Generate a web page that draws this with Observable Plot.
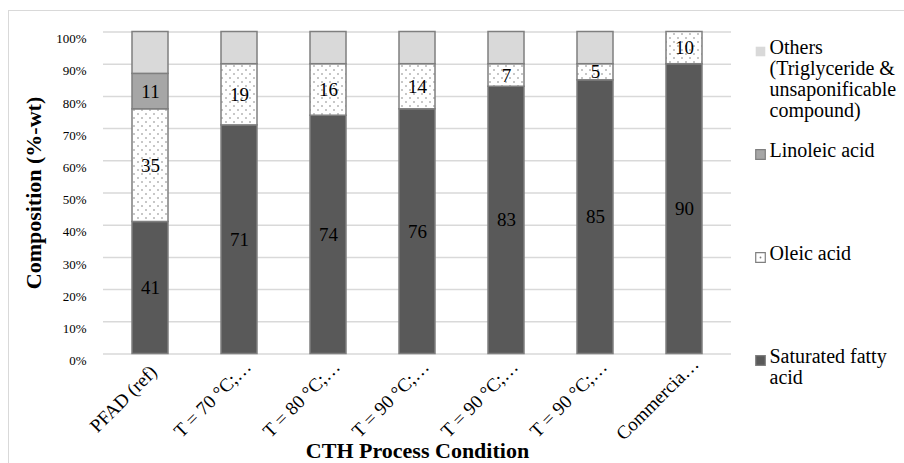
<!DOCTYPE html>
<html><head><meta charset="utf-8">
<script src="https://cdn.jsdelivr.net/npm/d3@7"></script>
<script src="https://cdn.jsdelivr.net/npm/@observablehq/plot@0.6"></script>
<style>
body{margin:0;background:#fff;overflow:hidden}
#wrap{position:relative;width:904px;height:463px;overflow:hidden}
#frame{position:absolute;left:8px;top:10px;width:1000px;height:1000px;border-left:1.5px solid #d9d9d9;border-top:1.5px solid #d9d9d9}
#chart{position:absolute;left:0;top:0}
g[aria-label="y-axis label"], g[aria-label="x-axis label"]{font-weight:bold;font-size:22px}
</style></head>
<body>
<div id="wrap"><div id="frame"></div><div id="chart"></div></div>
<script>
const conditions = ["PFAD (ref)","T = 70 °C;…","T = 80 °C;…","T = 90 °C;…","T = 90 °C;…","T = 90 °C;…","Commercia…"];
const series = ["Saturated fatty acid","Oleic acid","Linoleic acid","Others (Triglyceride & unsaponificable compound)"];
const legendLabels = ["Saturated fatty\nacid","Oleic acid","Linoleic acid","Others\n(Triglyceride &\nunsaponificable\ncompound)"];
const saturated = [41,71,74,76,83,85,90];
const oleic = [35,19,16,14,7,5,10];
const linoleic = [11,0,0,0,0,0,0];
const others = [13,10,10,10,10,10,0];
const yTicks = [0,10,20,30,40,50,60,70,80,90,100];
const fills = ["#595959","url(#dots)","#a6a6a6","#d9d9d9"];
const legendFills = ["#595959","#ffffff","#a6a6a6","#d9d9d9"];
const legendStrokes = ["#7f7f7f","#7f7f7f","#7f7f7f","none"];
const serifFont = "Liberation Serif";

const data = [];
conditions.forEach((c,i)=>{
  [saturated,oleic,linoleic,others].forEach((arr,s)=>data.push({i, s, series:series[s], value:arr[i]}));
});

const chart = Plot.plot({
  width:904, height:463,
  marginLeft:103, marginRight:173, marginTop:31.5, marginBottom:109.5,
  style:{fontFamily:serifFont, fontSize:"13px", color:"#000", background:"transparent", overflow:"visible"},
  x:{type:"band", domain:d3.range(conditions.length), paddingInner:0.6, paddingOuter:0.3, label:null},
  y:{domain:[0,100], label:null},
  color:{type:"identity"},
  marks:[
    Plot.ruleY(yTicks,{stroke:"#d9d9d9", strokeWidth:1.5}),
    Plot.barY(data, Plot.stackY({x:"i", y:"value", fill:d=>fills[d.s], stroke:"#7f7f7f", strokeWidth:1.5})),
    Plot.text(data, Plot.stackY({x:"i", y:"value", text:d=>(d.s===3||d.value===0)?null:String(d.value), fontSize:19, fill:"#000"})),
    Plot.axisY({ticks:yTicks, tickFormat:d=>d+"%", tickSize:0, tickPadding:17, dy:7, fontSize:13, label:"Composition (%-wt)", labelArrow:"none", labelAnchor:"center", labelOffset:78}),
    Plot.axisX({tickFormat:i=>conditions[i], tickSize:0, tickRotate:-45, textAnchor:"middle", lineAnchor:"middle", tickPadding:0, dx:-27, dy:45, fontSize:19, label:"CTH Process Condition", labelArrow:"none", labelAnchor:"center", labelOffset:104})
  ]
});

const defs = d3.select(chart).insert("defs", ":first-child");
const pat = defs.append("pattern").attr("id","dots").attr("width",8).attr("height",8).attr("patternUnits","userSpaceOnUse");
pat.append("rect").attr("width",8).attr("height",8).attr("fill","#fff");
pat.append("circle").attr("cx",2).attr("cy",2).attr("r",0.8).attr("fill","#808080");
pat.append("circle").attr("cx",6).attr("cy",6).attr("r",0.8).attr("fill","#808080");

// legend (own small plot, Others on top), nested inside the chart svg
const legendData = series.map((s,k)=>({s:k, name:s, label:legendLabels[k]}));
const legend = Plot.plot({
  width:154, height:463,
  marginLeft:5, marginRight:0, marginTop:48, marginBottom:105,
  style:{fontFamily:serifFont, color:"#000", background:"transparent", overflow:"visible"},
  x:{axis:null},
  y:{type:"point", domain:[3,2,1,0], padding:0, axis:null},
  color:{type:"identity"},
  marks:[
    Plot.dot(legendData, {y:"s", frameAnchor:"left", dx:5, dy:2, symbol:"square", r:5.4, fill:d=>legendFills[d.s], stroke:d=>legendStrokes[d.s], strokeWidth:1.2}),
    Plot.dot(legendData.filter(d=>d.s===1), {y:"s", frameAnchor:"left", dx:5, dy:2, r:0.9, fill:"#808080", stroke:null}),
    Plot.text(legendData, {y:"s", text:"label", frameAnchor:"left", textAnchor:"start", lineAnchor:"top", dx:14, dy:-10, fontSize:20, fontFamily:serifFont, lineHeight:1.05, fill:"#000"})
  ]
});
legend.setAttribute("x", 750);
legend.setAttribute("y", 0);
chart.appendChild(legend);
document.getElementById("chart").appendChild(chart);
</script>
</body></html>
